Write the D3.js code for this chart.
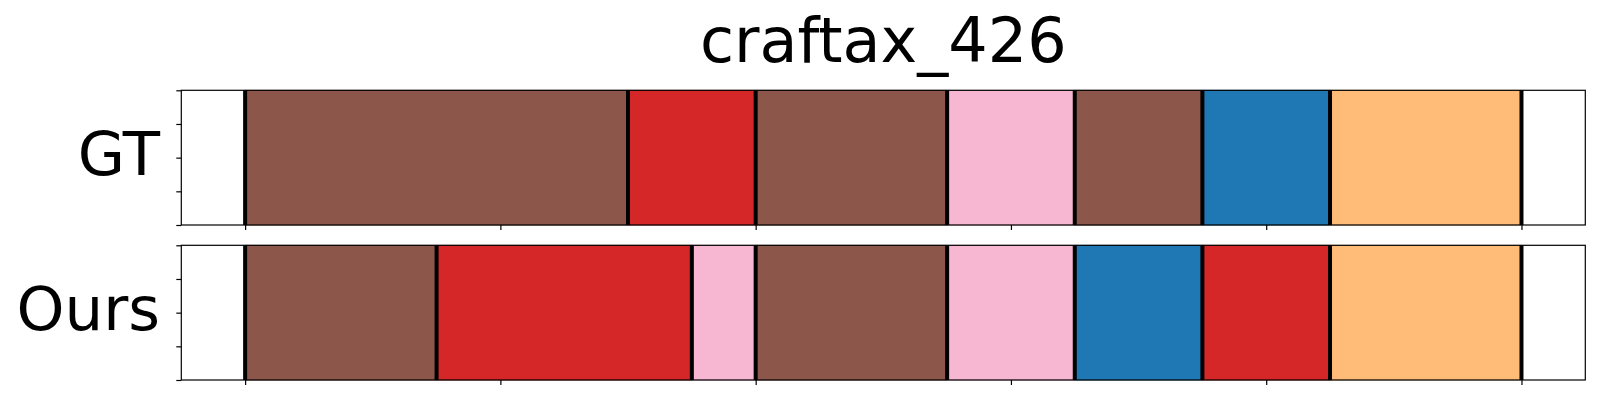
<!DOCTYPE html>
<html>
<head>
<meta charset="utf-8">
<script src="https://cdn.jsdelivr.net/npm/d3@7"></script>
<style>
  html, body { margin: 0; padding: 0; background: #fff; }
  svg { display: block; }
  text { font-family: "DejaVu Sans", sans-serif; fill: #000; }
</style>
</head>
<body>
<svg id="chart" width="1600" height="400"></svg>
<script>
// ---- data ----
const title = "craftax_426";
const rowNames = ["GT", "Ours"];
const gtBoundaries = [0, 6, 8, 11, 13, 15, 17, 20];
const gtLabels = ["brown", "red", "brown", "pink", "brown", "blue", "orange"];
const oursBoundaries = [0, 3, 7, 8, 11, 13, 15, 17, 20];
const oursLabels = ["brown", "red", "pink", "brown", "pink", "blue", "red", "orange"];
const labelNames = ["brown", "red", "pink", "blue", "orange"];
const labelColors = ["#8c564b", "#d62728", "#f7b6d2", "#1f77b4", "#ffbb78"];
const xTicks = [0, 4, 8, 12, 16, 20];
const yTicks = [0, 0.25, 0.5, 0.75, 1];

// ---- layout ----
const svg = d3.select("#chart");
const left = 181.3, right = 1585.3;
const panels = [
  { name: rowNames[0], top: 90.3, bottom: 225, bounds: gtBoundaries, labels: gtLabels },
  { name: rowNames[1], top: 245.3, bottom: 380, bounds: oursBoundaries, labels: oursLabels }
];
const total = gtBoundaries[gtBoundaries.length - 1];
const pad = total * 0.05;
const x = d3.scaleLinear().domain([-pad, total + pad]).range([left, right]);
const color = d3.scaleOrdinal().domain(labelNames).range(labelColors);

svg.append("text")
  .attr("x", (left + right) / 2)
  .attr("y", 62)
  .attr("text-anchor", "middle")
  .style("font-size", "62px")
  .text(title);

panels.forEach(p => {
  const y = d3.scaleLinear().domain([0, 1]).range([p.bottom, p.top]);
  const g = svg.append("g");
  const segs = p.labels.map((l, i) => ({ s: p.bounds[i], e: p.bounds[i + 1], l }));

  g.selectAll("rect.seg").data(segs).join("rect")
    .attr("class", "seg")
    .attr("x", d => x(d.s))
    .attr("width", d => x(d.e) - x(d.s))
    .attr("y", y(1))
    .attr("height", y(0) - y(1))
    .attr("fill", d => color(d.l))
    .attr("stroke", d => d3.color(color(d.l)).darker(0.4))
    .attr("stroke-width", 0.8);

  g.selectAll("line.bnd").data(p.bounds).join("line")
    .attr("class", "bnd")
    .attr("x1", d => x(d)).attr("x2", d => x(d))
    .attr("y1", y(1)).attr("y2", y(0))
    .attr("stroke", "#000")
    .attr("stroke-width", 4);

  // frame
  g.append("rect")
    .attr("x", left).attr("y", p.top)
    .attr("width", right - left).attr("height", p.bottom - p.top)
    .attr("fill", "none").attr("stroke", "#000").attr("stroke-width", 1.2);

  const xAxis = d3.axisBottom(x).tickValues(xTicks).tickFormat("").tickSize(5).tickSizeOuter(0);
  const gx = g.append("g").attr("transform", `translate(0,${p.bottom})`).call(xAxis);
  gx.select(".domain").remove();
  gx.selectAll("line").attr("stroke-width", 1.2);

  const yAxis = d3.axisLeft(y).tickValues(yTicks).tickFormat("").tickSize(5).tickSizeOuter(0);
  const gy = g.append("g").attr("transform", `translate(${left},0)`).call(yAxis);
  gy.select(".domain").remove();
  gy.selectAll("line").attr("stroke-width", 1.2);

  svg.append("text")
    .attr("x", 160)
    .attr("y", (p.top + p.bottom) / 2 + 17.4)
    .attr("text-anchor", "end")
    .style("font-size", "61px")
    .text(p.name);
});
</script>
</body>
</html>
